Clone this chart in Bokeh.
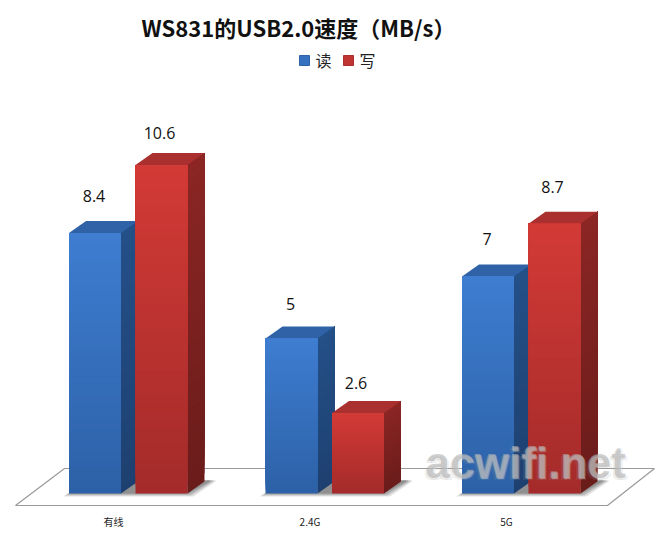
from bokeh.plotting import figure
from bokeh.embed import file_html
from bokeh.resources import INLINE
from bokeh.core.properties import value

title = "WS831的USB2.0速度（MB/s）"
categories = ["有线", "2.4G", "5G"]
read_speed = [8.4, 5, 7]
write_speed = [10.6, 2.6, 8.7]
read_labels = ["8.4", "5", "7"]
write_labels = ["10.6", "2.6", "8.7"]
series_names = ["读", "写"]

# Gap in pixels between each bar's top and its value label
read_label_gap = [37, 35, 38]
write_label_gap = [32, 30, 37]

# Layout constants: reference pixels
OX, OY = 0, 0
W, H = 668, 537
GROUP_PX = 196.5
CENTER0_PX = 128.0
BASE_PX = 493.0
UNIT_PX = 31.0


def xd(px):
    return (px - CENTER0_PX) / GROUP_PX


def yd(py):
    return (BASE_PX - py) / UNIT_PX


DX = 17 / GROUP_PX   # depth, in x data units
DY = 12 / UNIT_PX    # depth, in y data units
BAR_W = 52 / GROUP_PX
GAP_OFF = 59.5 / GROUP_PX   # from group centre to bar's left for read
WRITE_OFF = 7 / GROUP_PX

p = figure(width=W, height=H, output_backend="svg", toolbar_location=None,
           x_range=(xd(OX), xd(OX + W)), y_range=(yd(OY + H), yd(OY)),
           min_border=0, outline_line_color=None, background_fill_color="white")
p.axis.visible = False
p.grid.visible = False


def lerp(c1, c2, t):
    return "#%02x%02x%02x" % tuple(round(a + (b - a) * t) for a, b in zip(c1, c2))


# Floor
FLOOR_Y0, FLOOR_Y1 = yd(505), yd(468)
p.patch([xd(15), xd(607), xd(654), xd(64)], [FLOOR_Y0, FLOOR_Y0, FLOOR_Y1, FLOOR_Y1],
        fill_color="white", line_color="#9a9a9a", line_width=1.2)

BLUE = dict(front_top=(62, 125, 209), front_bot=(44, 97, 166), side_top=(36, 80, 136),
            side_bot=(30, 64, 112), top="#2f62a6")
RED = dict(front_top=(211, 58, 54), front_bot=(163, 43, 42), side_top=(139, 38, 36),
           side_bot=(106, 28, 27), top="#a9302e")


def shadow(x0, x1):
    for grow, alpha in ((6, 0.2), (4, 0.28), (2, 0.36), (0, 0.5)):
        gx, gy = grow / GROUP_PX, grow / UNIT_PX
        p.patch([x0 - gx, x1 + gx, x1 + DX * 1.3 + gx, x1 + DX * 1.3 + gx, x0 + DX],
                [-gy * 0.5, -gy * 0.5, DY * 1.0, DY * 1.1, DY * 0.9],
                fill_color="#777777", fill_alpha=alpha, line_color=None)


def bar(x0, v, s):
    x1 = x0 + BAR_W
    n = 40
    # right side face: each layer runs to the top of the bar, so no seams show
    for i in range(n):
        a = v * i / n
        c = lerp(s["side_bot"], s["side_top"], (i + 0.5) / n)
        p.patch([x1, x1 + DX, x1 + DX, x1], [a, a + DY, v + DY, v],
                fill_color=c, line_color=None)
    # top face
    p.patch([x0, x1, x1 + DX, x0 + DX], [v, v, v + DY, v + DY],
            fill_color=s["top"], line_color=None)
    # front face
    for i in range(n):
        a = v * i / n
        c = lerp(s["front_bot"], s["front_top"], (i + 0.5) / n)
        p.quad(left=x0, right=x1, bottom=a, top=v, fill_color=c, line_color=None)


font = value("Open Sans")
cjk = value("Noto Sans CJK SC")

for i, cat in enumerate(categories):
    blue_x = i - GAP_OFF
    red_x = i + WRITE_OFF
    shadow(blue_x, red_x + BAR_W)
    bar(blue_x, read_speed[i], BLUE)
    bar(red_x, write_speed[i], RED)
    p.text([blue_x + BAR_W / 2 - 1 / GROUP_PX], [read_speed[i] + read_label_gap[i] / UNIT_PX],
           text=[read_labels[i]], text_font=font, text_font_size="16px", text_color="#111111",
           text_align="center", text_baseline="middle")
    p.text([red_x + BAR_W / 2 - 2 / GROUP_PX], [write_speed[i] + write_label_gap[i] / UNIT_PX],
           text=[write_labels[i]], text_font=font, text_font_size="16px", text_color="#111111",
           text_align="center", text_baseline="middle")
    p.text([i - 15 / GROUP_PX], [yd(521)], text=[cat], text_font=cjk, text_font_size="10px",
           text_color="#222222", text_align="center", text_baseline="middle")

# Title
p.text([xd(298)], [yd(26)], text=[title], text_font=cjk, text_font_style="bold",
       text_font_size="22px", text_color="#111111", text_align="center", text_baseline="middle")

# Legend
for sx, tx, s, name in ((304, 323, BLUE, series_names[0]), (348, 367, RED, series_names[1])):
    p.rect([xd(sx)], [yd(60)], width=10 / GROUP_PX, height=10 / UNIT_PX,
           fill_color=lerp(s["front_top"], s["front_bot"], 0.4), line_color=s["top"])
    p.text([xd(tx)], [yd(59)], text=[name], text_font=cjk, text_font_size="16px",
           text_color="#222222", text_align="center", text_baseline="middle")

# Watermark: soft grey shadow layers under a translucent face
WM = "acwifi.net"
for dx, dy, col, alpha in ((-2, 2, "#999999", 0.18), (2, 2, "#999999", 0.18), (1, 1, "#ffffff", 0.35)):
    p.text([xd(425)], [yd(462)], text=[WM], text_font=value("Liberation Sans"), text_font_style="bold",
           text_font_size="44px", text_color=col, text_alpha=alpha, text_align="left",
           text_baseline="middle", x_offset=dx, y_offset=dy)
p.text([xd(425)], [yd(462)], text=[WM], text_font=value("Liberation Sans"), text_font_style="bold",
       text_font_size="44px", text_color="#b0b0b0", text_alpha=0.6, text_align="left",
       text_baseline="middle")

open("out.html", "w").write(file_html(p, INLINE))
